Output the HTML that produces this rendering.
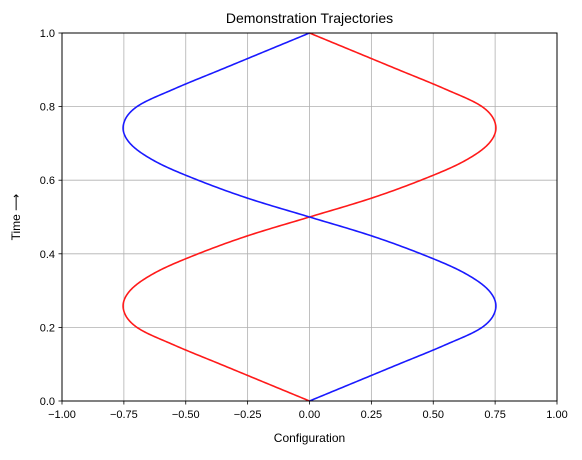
<!DOCTYPE html>
<html><head><meta charset="utf-8"><style>
body{margin:0;background:#fff;}
svg text{font-family:"Liberation Sans","DejaVu Sans",sans-serif;fill:#000;}
</style></head><body>
<svg id="chart" width="582" height="455" viewBox="0 0 582 455">
<rect x="0" y="0" width="582" height="455" fill="#fff"/>
<g id="grid"></g>
<g id="series"></g>
<rect x="62" y="33" width="495" height="368" fill="none" stroke="#000" stroke-width="1"/>
<g id="ticks"></g>
<text x="309.5" y="23" font-size="14" text-anchor="middle">Demonstration Trajectories</text>
<text x="309.5" y="442" font-size="12" text-anchor="middle">Configuration</text>
<text transform="translate(20,217) rotate(-90)" font-size="12" text-anchor="middle">Time ⟶</text>
</svg>
<script>
const xTicks=[-1,-0.75,-0.5,-0.25,0,0.25,0.5,0.75,1];
const xTickLabels=["−1.00","−0.75","−0.50","−0.25","0.00","0.25","0.50","0.75","1.00"];
const yTicks=[0,0.2,0.4,0.6,0.8,1];
const yTickLabels=["0.0","0.2","0.4","0.6","0.8","1.0"];
const timeValues=[0,0.05,0.1,0.15,0.2,0.25,0.3,0.35,0.4,0.45,0.5,0.55,0.6,0.65,0.7,0.75,0.8,0.85,0.9,0.95,1];
const redValues=[0,-0.18,-0.36,-0.54,-0.697,-0.752,-0.725,-0.62,-0.45,-0.245,0,0.245,0.45,0.62,0.725,0.752,0.697,0.54,0.36,0.18,0];
const blueValues=[0,0.18,0.36,0.54,0.697,0.752,0.725,0.62,0.45,0.245,0,-0.245,-0.45,-0.62,-0.725,-0.752,-0.697,-0.54,-0.36,-0.18,0];
const NS="http://www.w3.org/2000/svg";
const X=v=>309.5+v*247.5, Y=v=>401-v*368;
const grid=document.getElementById('grid'), ticks=document.getElementById('ticks'), series=document.getElementById('series');
function mk(tag,attrs,parent){const e=document.createElementNS(NS,tag);for(const k in attrs)e.setAttribute(k,attrs[k]);parent.appendChild(e);return e;}
xTicks.forEach((v,i)=>{
  const g=mk('line',{x1:X(v),x2:X(v),y1:33,y2:401,stroke:'#b0b0b0','stroke-width':0.8},grid);
  
  
  const t=mk('line',{x1:X(v),x2:X(v),y1:401,y2:404.5,stroke:'#000','stroke-width':0.8},ticks);
  
  
  const l=mk('text',{x:X(v),y:418,'font-size':11,'text-anchor':'middle'},ticks);
  l.textContent=xTickLabels[i];
  
  
});
yTicks.forEach((v,i)=>{
  const g=mk('line',{x1:62,x2:557,y1:Y(v),y2:Y(v),stroke:'#b0b0b0','stroke-width':0.8},grid);
  
  
  const t=mk('line',{x1:58.5,x2:62,y1:Y(v),y2:Y(v),stroke:'#000','stroke-width':0.8},ticks);
  
  
  const l=mk('text',{x:55,y:Y(v)+4,'font-size':11,'text-anchor':'end'},ticks);
  l.textContent=yTickLabels[i];
  
  
});
function pathFor(xs){
  const n=xs.length;
  const get=j=>j<0?2*xs[0]-xs[1]:(j>n-1?2*xs[n-1]-xs[n-2]:xs[j]);
  let d='';
  for(let i=0;i<n-1;i++){
    const x0=get(i-1),x1=get(i),x2=get(i+1),x3=get(i+2);
    const t1=timeValues[i],t2=timeValues[i+1];
    for(let k=0;k<=20;k++){
      if(i>0&&k===0)continue;
      const s=k/20;
      const v=0.5*((2*x1)+(-x0+x2)*s+(2*x0-5*x1+4*x2-x3)*s*s+(-x0+3*x1-3*x2+x3)*s*s*s);
      const t=t1+(t2-t1)*s;
      d+=(d?' L':'M')+X(v).toFixed(2)+','+Y(t).toFixed(2);
    }
  }
  return d;
}
const red=mk('path',{d:pathFor(redValues),fill:'none',stroke:'#ff1a1a','stroke-width':1.6,'stroke-linejoin':'round'},series);


const blue=mk('path',{d:pathFor(blueValues),fill:'none',stroke:'#1a1aff','stroke-width':1.6,'stroke-linejoin':'round'},series);


</script>
</body></html>
